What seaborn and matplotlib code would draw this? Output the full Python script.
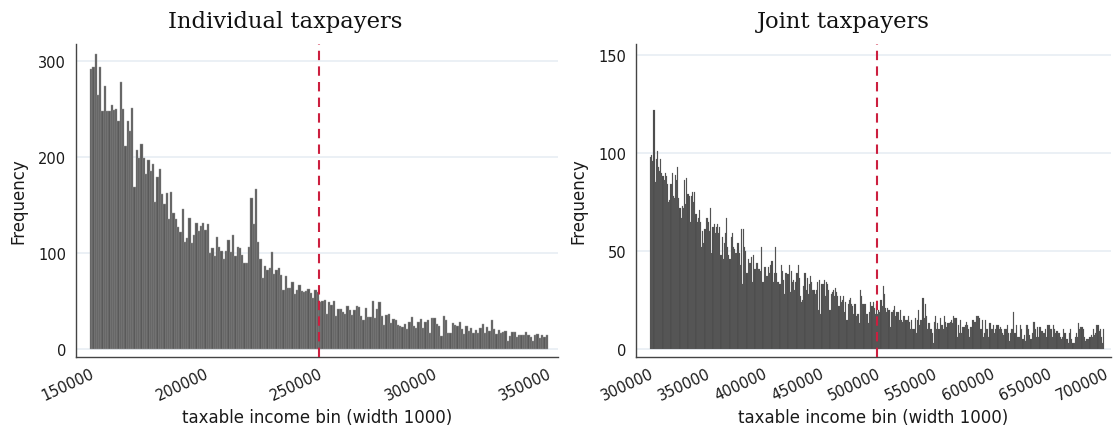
import numpy as np
import pandas as pd
import seaborn as sns
import matplotlib.pyplot as plt

# ---------------- data ----------------
bin_width = 1000

indiv_title = "Individual taxpayers"
indiv_start = 150000
indiv_end = 350000
indiv_cutoff = 250000
indiv_counts = [
    292, 294, 307, 265, 294, 248, 274, 248, 248, 254, 249, 250, 237, 278, 250, 211,
    238, 227, 251, 169, 207, 199, 214, 199, 182, 197, 185, 193, 153, 179, 188, 161,
    151, 163, 135, 164, 142, 135, 127, 122, 146, 111, 116, 136, 110, 119, 131, 123,
    128,
    131, 124, 130, 100, 105, 97, 117, 106, 102, 94, 102, 114, 101, 119, 97, 106,
    105, 98, 90, 90, 106, 157, 130, 167, 111, 94, 74, 87, 82, 84, 101, 78,
    82, 84, 77, 61, 76, 64, 64, 70, 57, 62, 67, 60, 59, 60, 63, 58, 53, 61,
    59, 49, 50, 51, 37, 49, 46, 50, 34, 42, 42, 39, 36, 45, 41, 35, 41, 45,
    44, 34, 30, 43, 33, 33, 50, 32, 42, 49, 34, 25, 35, 37, 27, 31, 30, 25,
    24, 23, 26, 21, 28, 33, 24, 22, 28, 31, 22, 28, 30, 17, 32,
    32, 26, 24, 14, 34, 30, 17, 17, 27, 25, 24, 28, 21, 16, 24, 19, 22, 17,
    20, 17, 22, 26, 17, 23, 19, 30, 21, 16, 20, 17, 18, 19, 8, 14, 18, 18,
    13, 15, 15, 15, 18, 15, 13, 8, 15, 16, 11, 15, 13, 15,
]
indiv_yticks = [0, 100, 200, 300]
indiv_xticks = [150000, 200000, 250000, 300000, 350000]

joint_title = "Joint taxpayers"
joint_start = 300000
joint_end = 700000
joint_cutoff = 500000
joint_counts = [
    98, 99, 96, 122, 85, 97, 101, 93, 91, 97, 90, 88, 86, 90, 88, 84,
    75, 76, 84, 90, 78, 77, 89, 86, 93, 77, 72, 67, 73, 72, 86, 74,
    87, 79, 78, 65, 78, 80, 75, 80, 69, 65, 67, 71, 65, 52, 60, 54,
    61, 67, 67, 65, 60, 72, 49, 62, 64, 59, 62, 64, 59, 62, 48, 57,
    46, 54, 59, 67, 52, 48, 46, 57, 59, 52, 51, 49, 49, 54, 49, 43,
    61, 33, 61, 52, 50, 39, 46, 44, 44, 47, 34, 48, 41, 44, 44, 41,
    41, 40, 52, 34,
    42, 42, 37, 37, 42, 39, 43, 45, 34, 39, 52, 39, 34, 34, 33, 43,
    40, 35, 28, 39, 39, 38, 43, 29, 40, 34, 35, 30, 34, 39, 43, 36,
    27, 24, 25, 32, 39, 30, 36, 28, 33, 37, 34, 30, 30, 28, 30, 34,
    20, 35, 18,
    33, 33, 35, 27, 34, 33, 30, 20, 28, 29, 30, 27, 31, 29, 27, 22,
    27, 24, 25, 27, 19, 24, 15, 23, 25, 26, 23, 22, 18, 23, 17, 18,
    18, 13, 30, 27, 23, 23, 23, 18, 18, 13, 19, 24, 22, 24, 21, 18, 23,
    18, 20, 19, 25, 22, 32, 28, 21, 19, 21, 20, 11, 19, 19, 20, 22,
    17, 19, 19, 15, 20, 15, 14, 17, 17, 15, 15, 17, 14, 10, 15, 10,
    10, 16, 8, 15, 20, 12, 15, 15, 26, 16, 23, 17, 10, 13, 13, 10, 8, 3, 14,
    17, 10, 13, 10, 16, 12, 12, 10, 17, 14, 11, 13, 13, 14, 15, 13,
    17, 16, 16, 6, 12, 8, 15, 8, 11, 11, 12, 14, 12, 10, 6, 11,
    11, 15, 14, 14, 17, 17, 17, 16, 10, 15, 6, 8, 15, 10, 10, 6, 13, 10,
    10, 12, 8, 10, 12, 12, 10, 11, 10, 8, 7, 10, 10, 12, 8, 4,
    8, 10, 10, 19, 8, 12, 6, 6, 6, 12, 10, 5, 7, 4, 12, 12,
    10, 7, 5, 8, 14, 14, 10, 6, 11, 6, 11, 9, 9, 8, 8, 10, 6, 12,
    12, 10, 10, 6, 12, 10, 8, 9, 8, 8, 6, 5, 6, 10, 8, 5,
    5, 3, 8, 10, 5, 3, 3, 6, 8, 6, 13, 10, 11, 11, 10, 6,
    4, 5, 5, 5, 6, 7, 6, 10, 7, 8, 12, 12, 9, 10, 6, 3, 10,
]
joint_yticks = [0, 50, 100, 150]
joint_xticks = [300000, 350000, 400000, 450000, 500000, 550000, 600000, 650000, 700000]

xlabel = "taxable income bin (width 1000)"
ylabel = "Frequency"

# ---------------- style ----------------
sns.set_theme(style="white")
plt.rcParams['font.family'] = ['DejaVu Sans']

W, H = 1113, 439
fig = plt.figure(figsize=(W / 100, H / 100), dpi=100)


def px_axes(x0, y0, x1, y1):
    return fig.add_axes([x0 / W, 1 - y1 / H, (x1 - x0) / W, (y1 - y0) / H])


def panel(ax, start, end, counts, cutoff, title, title_x, yticks, xticks, xlim, ylim,
          bar_color, edge_color, lw):
    df = pd.DataFrame({
        "bin": start + bin_width * np.arange(len(counts)) + bin_width / 2,
        "count": counts,
    })
    sns.histplot(data=df, x="bin", weights="count", binwidth=bin_width,
                 binrange=(start, end), ax=ax, color=bar_color,
                 edgecolor=edge_color, linewidth=lw, alpha=1)
    ax.set_xlim(*xlim)
    ax.set_ylim(*ylim)
    ax.set_yticks(yticks)
    ax.set_xticks(xticks)
    ax.set_xticklabels([str(t) for t in xticks], rotation=25, ha='right',
                       rotation_mode='anchor')
    ax.yaxis.grid(True, color='#e8eef3', lw=1.2)
    ax.xaxis.grid(False)
    ax.set_axisbelow(True)
    ax.axvline(cutoff, color='#cc1f3f', ls=(0, (4.5, 3)), lw=1.5, zorder=5)
    for s in ['top', 'right']:
        ax.spines[s].set_visible(False)
    ax.spines['left'].set_color('#444444')
    ax.spines['bottom'].set_color('#444444')
    ax.spines['left'].set_linewidth(1.0)
    ax.spines['bottom'].set_linewidth(1.0)
    ax.tick_params(axis='both', direction='out', length=4, width=0.8,
                   color='#444444', labelsize=10.5, labelcolor='#1a1a1a', pad=3)
    ax.tick_params(axis='x', pad=2)
    fig.text(title_x / W, 1 - 22 / H, title, fontfamily='DejaVu Serif',
             fontsize=16.3, color='#111111', ha='center', va='center')
    ax.set_xlabel(xlabel, fontsize=12, color='#1a1a1a', labelpad=4)
    ax.set_ylabel(ylabel, fontsize=12, color='#1a1a1a', labelpad=8)


ax1 = px_axes(76, 45, 558, 358)
panel(ax1, indiv_start, indiv_end, indiv_counts, indiv_cutoff, indiv_title, 285,
      indiv_yticks, indiv_xticks, (143900, 354400), (-8.3, 317.7),
      '#5a5a5a', '#9c9c9c', 0.3)

ax2 = px_axes(636, 45, 1111, 358)
panel(ax2, joint_start, joint_end, joint_counts, joint_cutoff, joint_title, 843,
      joint_yticks, joint_xticks, (287700, 706000), (-4.1, 155.6),
      '#4a4a4a', '#707070', 0.15)

fig.savefig("out.png", dpi=100)
